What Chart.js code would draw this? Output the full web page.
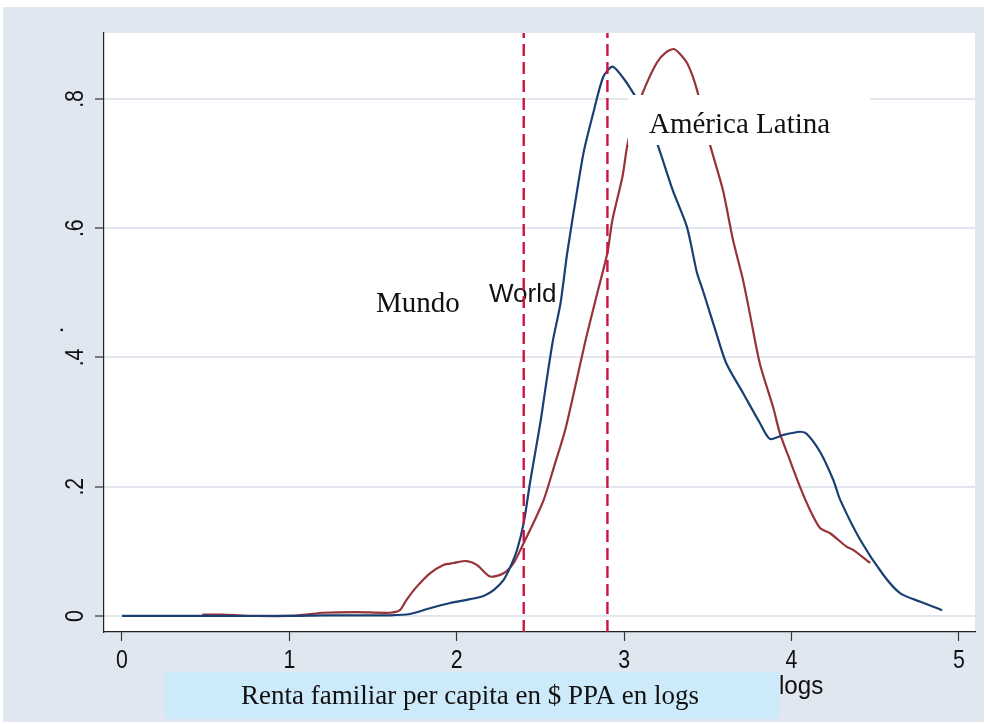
<!DOCTYPE html>
<html>
<head>
<meta charset="utf-8">
<script src="https://cdn.jsdelivr.net/npm/chart.js@4.4.1/dist/chart.umd.min.js"></script>
<style>
html,body{margin:0;padding:0;background:#fff;}
canvas{display:block;}
</style>
</head>
<body>
<canvas id="c" width="987" height="724"></canvas>
<script>
// Series: kernel densities of household per-capita income (logs)
const worldX = [0,0.5,1.0,1.2,1.4,1.6,1.72,1.84,1.96,2.08,2.16,2.22,2.28,2.32,2.36,2.40,2.44,2.50,2.54,2.575,2.62,2.66,2.72,2.76,2.82,2.875,2.93,2.99,3.05,3.12,3.196,3.29,3.375,3.435,3.47,3.55,3.61,3.71,3.81,3.87,3.95,4.05,4.09,4.17,4.25,4.29,4.41,4.55,4.65,4.77,4.90];
const worldY = [0,0,0,0.001,0.001,0.001,0.003,0.012,0.02,0.026,0.031,0.04,0.056,0.076,0.102,0.144,0.21,0.30,0.37,0.427,0.484,0.562,0.66,0.72,0.783,0.834,0.85,0.834,0.811,0.78,0.732,0.659,0.602,0.531,0.504,0.438,0.391,0.345,0.299,0.274,0.28,0.285,0.282,0.254,0.21,0.18,0.118,0.063,0.035,0.022,0.009];
const latamX = [0.48,0.6,0.7,0.8,1.0,1.1,1.2,1.4,1.6,1.66,1.70,1.76,1.84,1.92,1.98,2.06,2.12,2.20,2.28,2.34,2.40,2.46,2.52,2.58,2.65,2.77,2.84,2.90,2.93,2.99,3.02,3.06,3.11,3.195,3.255,3.30,3.375,3.435,3.51,3.59,3.65,3.71,3.75,3.81,3.89,3.93,3.99,4.05,4.11,4.17,4.23,4.33,4.37,4.47];
const latamY = [0.002,0.002,0.001,0,0,0.002,0.005,0.006,0.005,0.009,0.025,0.045,0.066,0.079,0.082,0.085,0.079,0.061,0.066,0.082,0.113,0.145,0.18,0.23,0.29,0.427,0.50,0.562,0.613,0.68,0.73,0.77,0.809,0.856,0.873,0.877,0.856,0.814,0.732,0.659,0.582,0.52,0.469,0.391,0.323,0.283,0.241,0.2,0.164,0.136,0.128,0.107,0.102,0.082];
const refLines = [2.4, 2.9];
const xTicks = [0,1,2,3,4,5];
const xTickLabels = ["0","1","2","3","4","5"];
const yTicks = [0,0.2,0.4,0.6,0.8];
const yTickLabels = ["0",".2",".4",".6",".8"];
const xTitle = "Renta familiar per capita en $ PPA en logs";
const yTitle = ".";
const labelLatam = "América Latina";
const labelMundo = "Mundo";
const labelWorld = "World";
const labelLogs = "logs";

const X_MIN = -0.1075, X_MAX = 5.096, Y_MIN = -0.0248, Y_MAX = 0.902;
const SANS = '"Liberation Sans", Arial, sans-serif';
const SERIF = '"Liberation Serif", "Times New Roman", serif';
const BG = '#e1e7f1';

const zip = (xs, ys) => xs.map((x,i)=>({x:x,y:ys[i]}));

const decor = {
  id:'decor',
  beforeDraw(chart){
    const ctx = chart.ctx, a = chart.chartArea;
    ctx.save();
    ctx.fillStyle = '#fff';
    ctx.fillRect(0,0,chart.width,chart.height);
    ctx.fillStyle = BG;
    ctx.fillRect(3,7,981,715);
    ctx.fillStyle = '#fff';
    ctx.fillRect(a.left,a.top,a.right-a.left,a.bottom-a.top);
    // x title box
    ctx.fillStyle = '#cdeafb';
    ctx.fillRect(165,672,614,47);
    ctx.fillStyle = '#111';
    ctx.font = '27px ' + SERIF;
    ctx.textAlign = 'center';
    ctx.textBaseline = 'middle';
    ctx.fillText(xTitle, 470, 697);
    ctx.save();
    ctx.font = '26px ' + SANS;
    ctx.textAlign = 'left';
    ctx.translate(779, 687);
    ctx.scale(0.93, 1);
    ctx.fillText(labelLogs, 0, 0);
    ctx.restore();
    // y title
    ctx.save();
    ctx.font = '24px ' + SANS;
    ctx.translate(56, 330);
    ctx.rotate(-Math.PI/2);
    ctx.textAlign = 'center';
    ctx.fillText(yTitle, 0, 0);
    ctx.restore();
    ctx.restore();
  },
  beforeDatasetsDraw(chart){
    const ctx = chart.ctx;
    ctx.save();
    ctx.fillStyle = '#111';
    ctx.textBaseline = 'alphabetic';
    ctx.textAlign = 'left';
    ctx.font = '29px ' + SERIF;
    ctx.fillText(labelMundo, 376, 312);
    ctx.font = '26px ' + SANS;
    ctx.fillText(labelWorld, 489, 302);
    ctx.restore();
  },
  afterDatasetsDraw(chart){
    const ctx = chart.ctx;
    ctx.save();
    ctx.fillStyle = '#fff';
    ctx.fillRect(628,95,242,50);
    ctx.fillStyle = '#111';
    ctx.font = '29px ' + SERIF;
    ctx.textAlign = 'left';
    ctx.textBaseline = 'alphabetic';
    ctx.fillText(labelLatam, 649, 133);
    ctx.restore();
  },
  afterDraw(chart){
    const ctx = chart.ctx, ys = chart.scales.y, xs = chart.scales.x;
    ctx.save();
    ctx.fillStyle = '#111';
    ctx.font = '26px ' + SANS;
    ctx.textAlign = 'center';
    ctx.textBaseline = 'middle';
    yTicks.forEach((v,i)=>{
      ctx.save();
      ctx.translate(76, ys.getPixelForValue(v));
      ctx.rotate(-Math.PI/2);
      ctx.scale(0.82, 1);
      ctx.fillText(yTickLabels[i], 0, 0);
      ctx.restore();
    });
    xTicks.forEach((v,i)=>{
      ctx.save();
      ctx.translate(xs.getPixelForValue(v), 661);
      ctx.scale(0.82, 1);
      ctx.fillText(xTickLabels[i], 0, 0);
      ctx.restore();
    });
    ctx.restore();
  }
};

new Chart(document.getElementById('c'), {
  type:'line',
  data:{
    datasets:[
      {label:'World', data:zip(worldX,worldY), borderColor:'#1a3f73', borderWidth:2.2, pointRadius:0, tension:0.25, fill:false, order:1},
      {label:'América Latina', data:zip(latamX,latamY), borderColor:'#973339', borderWidth:2.2, pointRadius:0, tension:0.25, fill:false, order:2},
      {label:'ref1', data:[{x:refLines[0],y:Y_MIN},{x:refLines[0],y:Y_MAX}], borderColor:'#cc1440', borderWidth:2.4, borderDash:[12,6], pointRadius:0, fill:false, order:0},
      {label:'ref2', data:[{x:refLines[1],y:Y_MIN},{x:refLines[1],y:Y_MAX}], borderColor:'#cc1440', borderWidth:2.4, borderDash:[12,6], pointRadius:0, fill:false, order:0}
    ]
  },
  options:{
    responsive:false,
    animation:false,
    devicePixelRatio:1,
    layout:{padding:{left:0,top:33,right:12,bottom:0}},
    plugins:{legend:{display:false},tooltip:{enabled:false}},
    scales:{
      x:{
        type:'linear', min:X_MIN, max:X_MAX,
        afterBuildTicks:(s)=>{ s.ticks = xTicks.map(v=>({value:v})); },
        afterFit:(s)=>{ s.height = 92; },
        grid:{display:true, drawOnChartArea:false, drawTicks:true, tickLength:9, tickColor:'#333', tickWidth:1.2},
        border:{display:true, color:'#222', width:1.2},
        ticks:{display:false}
      },
      y:{
        type:'linear', min:Y_MIN, max:Y_MAX,
        afterBuildTicks:(s)=>{ s.ticks = yTicks.map(v=>({value:v})); },
        afterFit:(s)=>{ s.width = 104; },
        grid:{display:true, drawOnChartArea:true, color:'#e1e6ef', lineWidth:2, drawTicks:true, tickLength:9, tickColor:'#333', tickWidth:1.2},
        border:{display:true, color:'#222', width:1.2},
        ticks:{display:false}
      }
    }
  },
  plugins:[decor]
});
</script>
</body>
</html>
